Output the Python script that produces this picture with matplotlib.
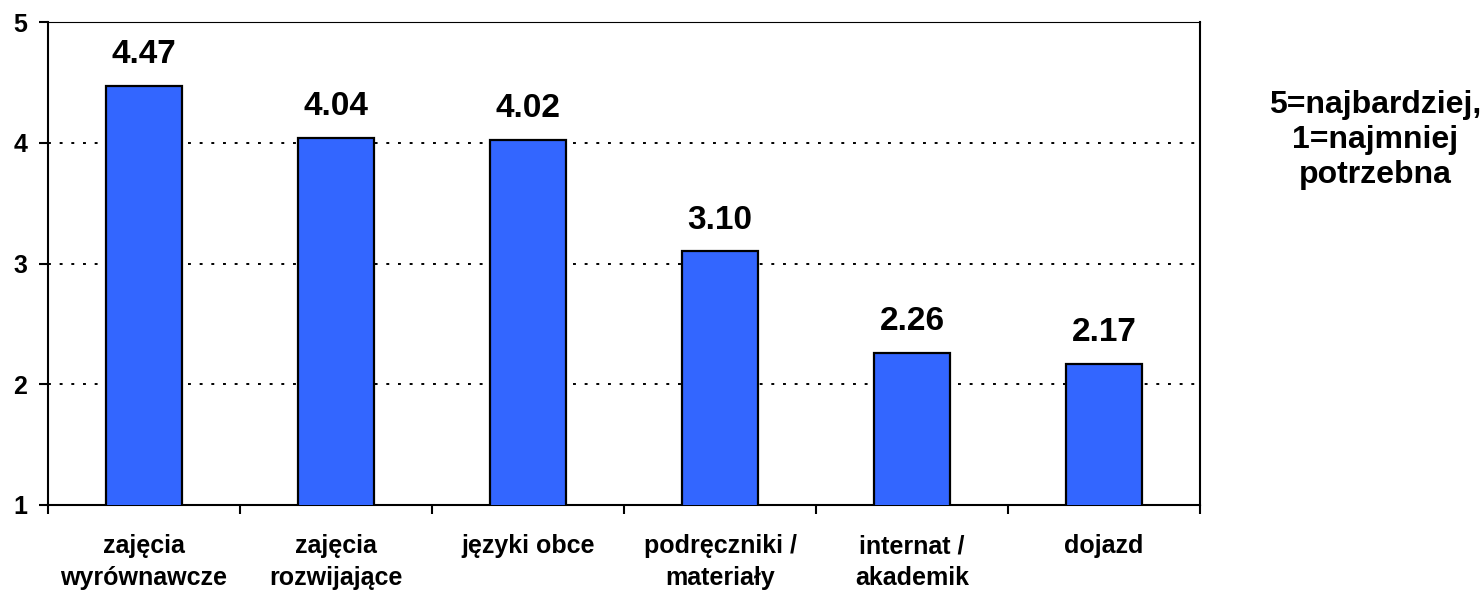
import matplotlib
matplotlib.use("Agg")
import matplotlib.pyplot as plt
import numpy as np

plt.rcParams['font.family'] = ['Liberation Sans', 'DejaVu Sans']
plt.rcParams['font.weight'] = 'bold'

# data
categories = ["zajęcia\nwyrównawcze", "zajęcia\nrozwijające", "języki obce",
              "podręczniki /\nmateriały", "internat /\nakademik", "dojazd"]
values = [4.47, 4.04, 4.02, 3.10, 2.26, 2.17]
value_labels = ["4.47", "4.04", "4.02", "3.10", "2.26", "2.17"]
yticks = [1, 2, 3, 4, 5]
note = "5=najbardziej,\n1=najmniej\npotrzebna"

fig = plt.figure(figsize=(14.84, 5.9), dpi=100)
ax = fig.add_axes([48 / 1484, 1 - 505 / 590, 1152 / 1484, 483 / 590])

x = np.arange(len(values))
ax.bar(x, values, width=0.4, color="#3366FF", edgecolor="black", linewidth=1.6, zorder=3)

for xi, v, lab in zip(x, values, value_labels):
    ax.annotate(lab, (xi, v), xytext=(0, 16.5), textcoords="offset points",
                ha="center", va="baseline", fontsize=24, fontweight="bold")

ax.set_xlim(-0.5, len(values) - 0.5)
ax.set_ylim(1, 5)
ax.set_yticks(yticks)
ax.set_yticklabels([str(t) for t in yticks])
ax.set_xticks(x)
ax.set_xticklabels(categories, linespacing=1.4)
ax.set_xticks(np.arange(len(values) + 1) - 0.5, minor=True)

ax.tick_params(axis="x", which="major", length=0, pad=21, labelsize=18)
ax.tick_params(axis="x", which="minor", length=6.5, width=1.5, direction="out")
ax.tick_params(axis="y", which="major", length=6.5, width=1.5, pad=8.6, labelsize=18)

for side in ["left", "bottom", "right"]:
    ax.spines[side].set_linewidth(1.5)
ax.spines["top"].set_linewidth(0.8)

ax.yaxis.grid(True, color="black", linestyle=(0, (1.5, 4.5)), linewidth=1.4, zorder=0)
ax.set_axisbelow(True)

fig.text(1375 / 1484, 1 - 140 / 590, note, ha="center", va="center",
         multialignment="center", fontsize=23, fontweight="bold")

fig.savefig("out.png", dpi=100)
